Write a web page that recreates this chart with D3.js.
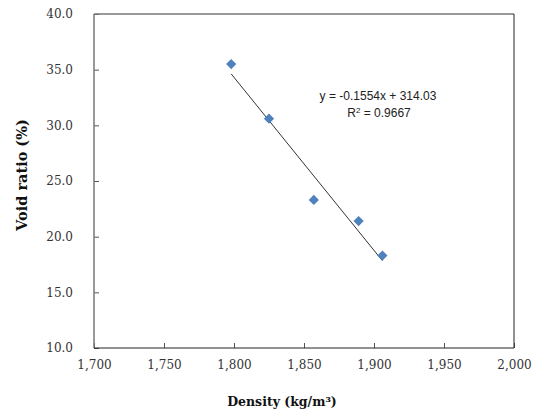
<!DOCTYPE html>
<html lang="en">
<head>
    <meta charset="UTF-8">
    <title>Void ratio vs density</title>
    <script src="https://d3js.org/d3.v7.min.js"></script>
    <style>
        body { margin: 0; background: #fff; }
        .tick text { font-family: "DejaVu Serif", serif; font-size: 12px; fill: #333; }
        .title { font-family: "DejaVu Serif", serif; font-weight: bold; fill: #111; }
        .eq { font-family: "Liberation Sans", sans-serif; font-size: 12px; fill: #222; }
    </style>
</head>
<body>
<script>
    // data
    var density = [1798, 1825, 1857, 1889, 1906];
    var voidRatio = [35.5, 30.6, 23.3, 21.4, 18.3];
    var xTicks = [1700, 1750, 1800, 1850, 1900, 1950, 2000];
    var yTicks = [10, 15, 20, 25, 30, 35, 40];
    var slope = -0.1554, intercept = 314.03, r2 = 0.9667;

    var W = 539, H = 412;
    var pLeft = 94, pRight = 514, pTop = 14, pBottom = 348;

    var svg = d3.select("body").append("svg")
        .attr("width", W)
        .attr("height", H);

    var x = d3.scaleLinear().domain([1700, 2000]).range([pLeft, pRight]);
    var y = d3.scaleLinear().domain([10, 40]).range([pBottom, pTop]);

    // x axis (ticks point inside)
    var xAxis = d3.axisBottom(x).tickValues(xTicks).tickSize(-5).tickPadding(12)
        .tickFormat(d3.format(","));
    var gx = svg.append("g")
        .attr("transform", "translate(0," + pBottom + ")")
        .call(xAxis);
    gx.select(".domain").remove();
    gx.selectAll(".tick line").attr("stroke", "#555");

    var yAxis = d3.axisLeft(y).tickValues(yTicks).tickSize(-5).tickPadding(21)
        .tickFormat(d3.format(".1f"));
    var gy = svg.append("g")
        .attr("transform", "translate(" + pLeft + ",0)")
        .call(yAxis);
    gy.select(".domain").remove();
    gy.selectAll(".tick line").attr("stroke", "#555");

    // frame
    svg.append("line").attr("x1", pLeft).attr("x2", pRight).attr("y1", pTop).attr("y2", pTop)
        .attr("stroke", "#777").attr("stroke-width", 1.5);
    svg.append("line").attr("x1", pLeft).attr("x2", pLeft).attr("y1", pTop).attr("y2", pBottom)
        .attr("stroke", "#777").attr("stroke-width", 1.5);
    svg.append("line").attr("x1", pRight).attr("x2", pRight).attr("y1", pTop).attr("y2", pBottom)
        .attr("stroke", "#222").attr("stroke-width", 1);
    svg.append("line").attr("x1", pLeft).attr("x2", pRight).attr("y1", pBottom).attr("y2", pBottom)
        .attr("stroke", "#222").attr("stroke-width", 1);

    // trendline
    var x0 = d3.min(density), x1 = d3.max(density);
    svg.append("line")
        .attr("x1", x(x0)).attr("y1", y(slope * x0 + intercept))
        .attr("x2", x(x1)).attr("y2", y(slope * x1 + intercept))
        .attr("stroke", "#333").attr("stroke-width", 1);

    // markers
    var diamond = d3.symbol().type(d3.symbolSquare).size(52);
    svg.selectAll(".pt")
        .data(density)
        .enter()
        .append("path")
        .attr("class", "pt")
        .attr("d", diamond)
        .attr("fill", "#4F81BD")
        .attr("transform", function (d, i) {
            return "translate(" + x(d) + "," + y(voidRatio[i]) + ") rotate(45)";
        });

    // equation
    var eq = svg.append("g").attr("class", "eq");
    eq.append("text").attr("x", 378).attr("y", 100).attr("text-anchor", "middle")
        .text("y = -0.1554x + 314.03");
    var r = eq.append("text").attr("x", 379).attr("y", 117).attr("text-anchor", "middle");
    r.append("tspan").text("R");
    r.append("tspan").attr("dy", -4).attr("font-size", "8px").text("2");
    r.append("tspan").attr("dy", 4).text(" = " + r2.toFixed(4));

    // axis titles
    svg.append("text").attr("class", "title")
        .attr("x", 282).attr("y", 406)
        .attr("text-anchor", "middle")
        .style("font-size", "12.5px")
        .text("Density (kg/m³)");
    svg.append("text").attr("class", "title")
        .attr("transform", "translate(27," + 175 + ") rotate(-90)")
        .attr("text-anchor", "middle")
        .style("font-size", "14.5px")
        .text("Void ratio (%)");
</script>
</body>
</html>
